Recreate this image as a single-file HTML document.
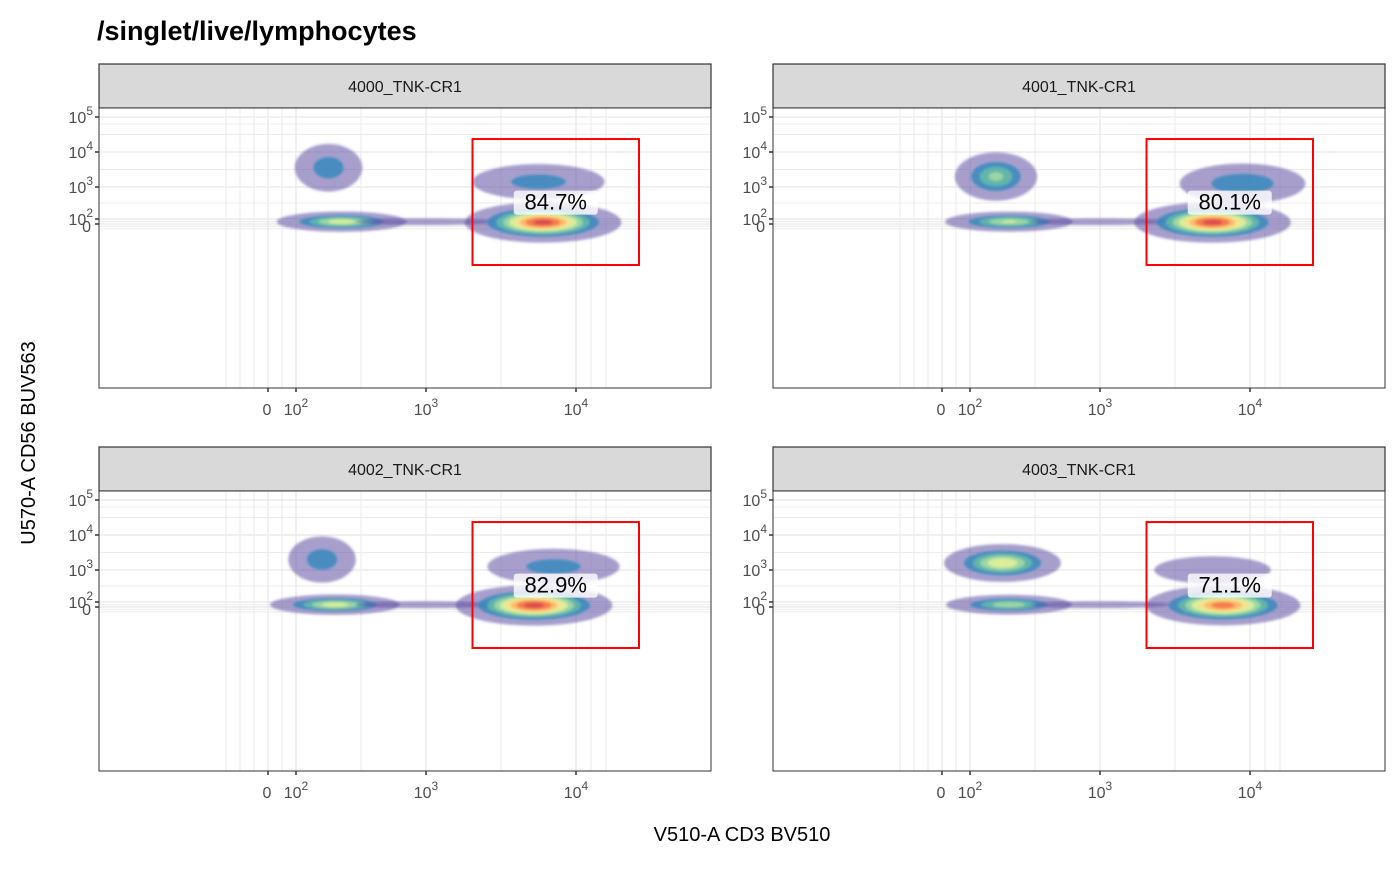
<!DOCTYPE html>
<html><head><meta charset="utf-8">
<style>
body{margin:0;background:#fff;width:1400px;height:865px;overflow:hidden;font-family:"Liberation Sans",Arial,sans-serif;}
</style></head>
<body>
<svg id="chart" width="1400" height="865" xmlns="http://www.w3.org/2000/svg" font-family="Liberation Sans, Arial, sans-serif">
<defs><filter id="blur" x="-50%" y="-50%" width="200%" height="200%"><feGaussianBlur stdDeviation="1.2"/></filter></defs>
<text x="97" y="40" font-size="27" font-weight="bold" fill="#000">/singlet/live/lymphocytes</text>
<text transform="translate(35,443) rotate(-90)" text-anchor="middle" font-size="20" fill="#000">U570-A CD56 BUV563</text>
<text x="742" y="841" text-anchor="middle" font-size="20" fill="#000">V510-A CD3 BV510</text>
<g id="panels"></g>
</svg>
<script>
// ----- data -----
const panelNames = ["4000_TNK-CR1","4001_TNK-CR1","4002_TNK-CR1","4003_TNK-CR1"];
const gatePercents = ["84.7%","80.1%","82.9%","71.1%"];
// gate bounds in decade units
const gateX = [3.31, 4.42];
const gateY = [0.6, 4.37];
// axis ticks (decade units) and labels
const xTickU = [1.8, 2, 3, 4];
const xTickLabels = ["0","10^2","10^3","10^4"];
const yTickU = [1.85, 2, 3, 4, 5];
const yTickLabels = ["0","10^2","10^3","10^4","10^5"];
// clusters per panel: centre x, centre y, spread x, spread y (decades), peak density (0..1)
const clusterCX = [[2.25,2.35,3.0,3.78,3.75],[2.2,2.3,3.0,3.75,3.95],[2.2,2.3,3.0,3.72,3.85],[2.25,2.3,3.0,3.82,3.75]];
const clusterCY = [[3.55,1.92,1.92,1.9,3.15],[3.3,1.92,1.92,1.9,3.1],[3.3,1.92,1.92,1.9,3.1],[3.2,1.92,1.92,1.9,3.0]];
const clusterSX = [[0.11,0.18,0.3,0.2,0.22],[0.12,0.18,0.3,0.2,0.2],[0.11,0.18,0.3,0.2,0.22],[0.16,0.18,0.3,0.2,0.22]];
const clusterSY = [[0.33,0.12,0.06,0.22,0.25],[0.3,0.12,0.06,0.22,0.27],[0.32,0.12,0.06,0.22,0.25],[0.22,0.12,0.06,0.22,0.22]];
const clusterPeak = [[0.22,0.55,0.08,1.0,0.2],[0.4,0.5,0.08,1.0,0.25],[0.22,0.55,0.08,1.0,0.2],[0.6,0.45,0.08,0.9,0.12]];

// ----- layout -----
const panelX = [99, 773], panelY = [64, 447], panelW = 612, stripH = 44, plotH = 280;
const xTickPx = [169,197,327,477];
const yTickPx = [116,111,79,44,9];
function interp(u, us, ps){
  if(u<=us[0]){return ps[0]+(u-us[0])*(ps[1]-ps[0])/(us[1]-us[0]);}
  for(let i=0;i<us.length-1;i++){ if(u<=us[i+1]) return ps[i]+(u-us[i])*(ps[i+1]-ps[i])/(us[i+1]-us[i]); }
  const n=us.length; return ps[n-1]+(u-us[n-1])*(ps[n-1]-ps[n-2])/(us[n-1]-us[n-2]);
}
const xs = u=>interp(u,xTickU,xTickPx);
const ys = u=>interp(u,[0.6].concat(yTickU),[157].concat(yTickPx));
const X_PER_DEC = 140, Y_PER_DEC = 33;
const colors=["#5e4fa2","#3288bd","#66c2a5","#abdda4","#e6f598","#fee08b","#fdae61","#f46d43","#d53e4f"];
const NS="http://www.w3.org/2000/svg";
function mk(tag,attrs,parent){const e=document.createElementNS(NS,tag);for(const k in attrs)e.setAttribute(k,attrs[k]);parent.appendChild(e);return e;}
function supLabel(parent,x,y,lab,anchor){
  const t=mk('text',{x:x,y:y,'font-size':16,fill:'#4d4d4d','text-anchor':anchor},parent);
  if(lab.indexOf('^')<0){t.textContent=lab;return t;}
  const [b,e]=lab.split('^');
  const s1=document.createElementNS(NS,'tspan');s1.textContent=b;t.appendChild(s1);
  const s2=document.createElementNS(NS,'tspan');s2.setAttribute('dy','-8');s2.setAttribute('font-size','12');s2.textContent=e;t.appendChild(s2);
  return t;
}
const root=document.getElementById('panels');
for(let p=0;p<4;p++){
  const ox=panelX[p%2], oy=panelY[Math.floor(p/2)];
  const g=mk('g',{transform:`translate(${ox},${oy})`},root);
  
  
  const strip=mk('rect',{x:0,y:0,width:panelW,height:stripH,fill:'#d9d9d9',stroke:'#333','stroke-width':1.2},g);
  
  
  const st=mk('text',{x:panelW/2,y:28,'text-anchor':'middle','font-size':16,fill:'#1a1a1a'},g);
  st.textContent=panelNames[p];
  
  
  const pg=mk('g',{transform:`translate(0,${stripH})`},g);
  mk('rect',{x:0,y:0,width:panelW,height:plotH,fill:'#fff'},pg);
  // grid
  const gx=[1.5,1.6,1.7,1.8,1.9,2,2.5,3,3.5,4,4.1,4.2];
  gx.forEach(u=>mk('line',{x1:xs(u),x2:xs(u),y1:0,y2:plotH,stroke:'#ebebeb','stroke-width':(xTickU.includes(u)?1.5:1)},pg));
  const gy=[1.7,1.78,1.85,1.92,2,2.5,3,3.5,4,4.5,4.8,5];
  gy.forEach(u=>mk('line',{x1:0,x2:panelW,y1:ys(u),y2:ys(u),stroke:'#ebebeb','stroke-width':(yTickU.includes(u)?1.5:1)},pg));
  // density clusters
  const dg=mk('g',{filter:'url(#blur)'},pg);
  
  
  for(let c=0;c<clusterCX[p].length;c++){
    const cx=xs(clusterCX[p][c]), cy=ys(clusterCY[p][c]);
    const rx=clusterSX[p][c]*X_PER_DEC, ry=clusterSY[p][c]*Y_PER_DEC;
    const pk=clusterPeak[p][c];
    for(let k=0;k<colors.length;k++){
      const lvl=0.02+k*0.115;
      if(lvl>=pk) break;
      const r=Math.sqrt(2*Math.log(pk/lvl));
      const el=mk('ellipse',{cx:cx,cy:cy,rx:rx*r,ry:ry*r,fill:colors[k],opacity:k==0?0.55:0.8},dg);
      
      
    }
  }
  // gate
  const gr=mk('rect',{x:xs(gateX[0]),y:ys(gateY[1]),width:xs(gateX[1])-xs(gateX[0]),height:ys(gateY[0])-ys(gateY[1]),fill:'none',stroke:'#ff0000','stroke-width':2},pg);
  
  
  const lx=(xs(gateX[0])+xs(gateX[1]))/2, ly=ys(1.95)-16;
  mk('rect',{x:lx-42,y:ly-14,width:84,height:24,fill:'#fff',opacity:0.8,rx:3},pg);
  const gl=mk('text',{x:lx,y:ly+5,'text-anchor':'middle','font-size':22,fill:'#000'},pg);
  gl.textContent=gatePercents[p];
  
  
  mk('rect',{x:0,y:0,width:panelW,height:plotH,fill:'none',stroke:'#333','stroke-width':1},pg);
  // ticks
  xTickU.forEach((u,i)=>{
    mk('line',{x1:xs(u),x2:xs(u),y1:plotH,y2:plotH+4,stroke:'#333','stroke-width':1.5},pg);
    const t=supLabel(pg,xs(u)+(i==0?-1:0),plotH+27,xTickLabels[i],'middle');
    
    
  });
  yTickU.forEach((u,i)=>{
    mk('line',{x1:-4,x2:0,y1:ys(u),y2:ys(u),stroke:'#333','stroke-width':1.5},pg);
    const t=supLabel(pg,(i==0?-8:-6),ys(u)+(i==0?8:6),yTickLabels[i],'end');
    
    
  });
}
</script>
</body></html>
